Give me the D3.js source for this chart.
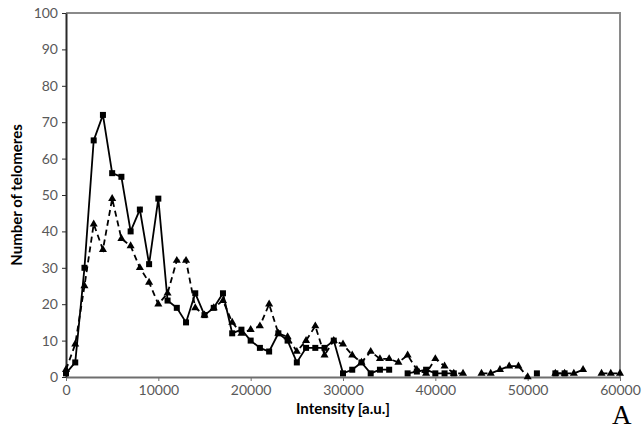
<!DOCTYPE html>
<html>
<head>
<meta charset="utf-8">
<script src="https://cdn.jsdelivr.net/npm/d3@7"></script>
<style>
  body { margin: 0; background: #fff; }
  .tick text { font-family: Lato, "Open Sans", sans-serif; font-size: 14px; fill: #595959; }
  .axisTitle { font-family: Lato, "Open Sans", sans-serif; font-size: 15px; font-weight: bold; fill: #000; }
</style>
</head>
<body>
<div class="chart"></div>
<script>
var svgWidth = 643;
var svgHeight = 429;

var margin = { top: 13, right: 23, bottom: 52, left: 66 };

var width = svgWidth - margin.left - margin.right;
var height = svgHeight - margin.top - margin.bottom;

// intensity bins, 0 .. 60000 in steps of 1000
var intensity = d3.range(0, 60001, 1000);

// solid line, square markers (null = no point)
var seriesSquares = [
  1, 4, 30, 65, 72, 56, 55, 40, 46, 31,
  49, 21, 19, 15, 23, 17, 19, 23, 12, 13,
  10, 8, 7, 12, 10, 4, 8, 8, 8, 10,
  1, 2, 4, 1, 2, 2, null, 1, 1.5, 2,
  1, 1, 1, null, null, null, null, null, null, null,
  null, 1, null, 1, 1, null, null, null, null, null,
  null
];

// dashed line, triangle markers
var seriesTriangles = [
  2, 9, 25, 42, 35, 49, 38, 36, 30, 26,
  20, 23, 32, 32, 19, 17, 19, 21, 15, 12,
  13, 14, 20, 12, 11, 7, 10, 14, 6, 10,
  9, 6, 4, 7, 5, 5, 4, 6, 2, 1,
  5, 3, 1, 1, null, 1, 1, 2, 3, 3,
  0, null, null, 1, 1, 1, 2, null, 1, 1,
  1
];

var xTicks = [0, 10000, 20000, 30000, 40000, 50000, 60000];
var yTicks = [0, 10, 20, 30, 40, 50, 60, 70, 80, 90, 100];

var svg = d3.select(".chart")
  .append("svg")
  .attr("width", svgWidth)
  .attr("height", svgHeight)
  .append("g")
  .attr("transform", "translate(" + margin.left + "," + margin.top + ")");

var xLinearScale = d3.scaleLinear().domain([0, 60000]).range([0, width]);
var yLinearScale = d3.scaleLinear().domain([0, 100]).range([height, 0]);

// plot frame (top and right)
svg.append("path")
  .attr("d", "M0,0H" + width + "V" + height)
  .attr("fill", "none")
  .attr("stroke", "#8a8a8a")
  .attr("stroke-width", 2);

var bottomAxis = d3.axisBottom(xLinearScale).tickValues(xTicks).tickSize(4).tickSizeOuter(0).tickPadding(4)
  .tickFormat(d3.format("d"));
var leftAxis = d3.axisLeft(yLinearScale).tickValues(yTicks).tickSize(4).tickSizeOuter(0).tickPadding(4);

var xAxisG = svg.append("g")
  .attr("transform", "translate(0," + height + ")")
  .call(bottomAxis);
xAxisG.select(".domain").attr("stroke", "#6e6e6e").attr("stroke-width", 2);
xAxisG.selectAll(".tick line").attr("stroke", "#6e6e6e");

var yAxisG = svg.append("g").call(leftAxis);
yAxisG.select(".domain").attr("stroke", "#2a2a2a").attr("stroke-width", 2);
yAxisG.selectAll(".tick line").attr("stroke", "#2a2a2a");

function points(values) {
  return intensity.map(function(x, i) { return { x: x, y: values[i] }; });
}

var line = d3.line()
  .defined(function(d) { return d.y !== null; })
  .x(function(d) { return xLinearScale(d.x); })
  .y(function(d) { return yLinearScale(d.y); });

var triData = points(seriesTriangles);
var sqData = points(seriesSquares);

svg.append("path")
  .attr("d", line(triData))
  .attr("fill", "none")
  .attr("stroke", "#000")
  .attr("stroke-width", 1.8)
  .attr("stroke-dasharray", "6,4");

svg.append("path")
  .attr("d", line(sqData))
  .attr("fill", "none")
  .attr("stroke", "#000")
  .attr("stroke-width", 1.8);

var triangle = d3.symbol().type(d3.symbolTriangle).size(28);

svg.selectAll(".tri")
  .data(triData.filter(function(d) { return d.y !== null; }))
  .enter().append("path")
    .attr("class", "tri")
    .attr("d", triangle)
    .attr("transform", function(d) {
      return "translate(" + xLinearScale(d.x) + "," + yLinearScale(d.y) + ")";
    })
    .attr("fill", "#000");

svg.selectAll(".sq")
  .data(sqData.filter(function(d) { return d.y !== null; }))
  .enter().append("rect")
    .attr("class", "sq")
    .attr("x", function(d) { return xLinearScale(d.x) - 3; })
    .attr("y", function(d) { return yLinearScale(d.y) - 3; })
    .attr("width", 6)
    .attr("height", 6)
    .attr("fill", "#000");

// axis titles
svg.append("text")
  .attr("class", "axisTitle")
  .attr("transform", "rotate(-90)")
  .attr("x", -height / 2)
  .attr("y", -margin.left + 22)
  .attr("text-anchor", "middle")
  .text("Number of telomeres");

svg.append("text")
  .attr("class", "axisTitle")
  .attr("x", width / 2)
  .attr("y", height + 37)
  .attr("text-anchor", "middle")
  .text("Intensity [a.u.]");

svg.append("text")
  .attr("x", width - 8)
  .attr("y", height + 47)
  .attr("font-family", "'Liberation Serif', serif")
  .attr("font-size", 27)
  .attr("fill", "#000")
  .text("A");
</script>
</body>
</html>
